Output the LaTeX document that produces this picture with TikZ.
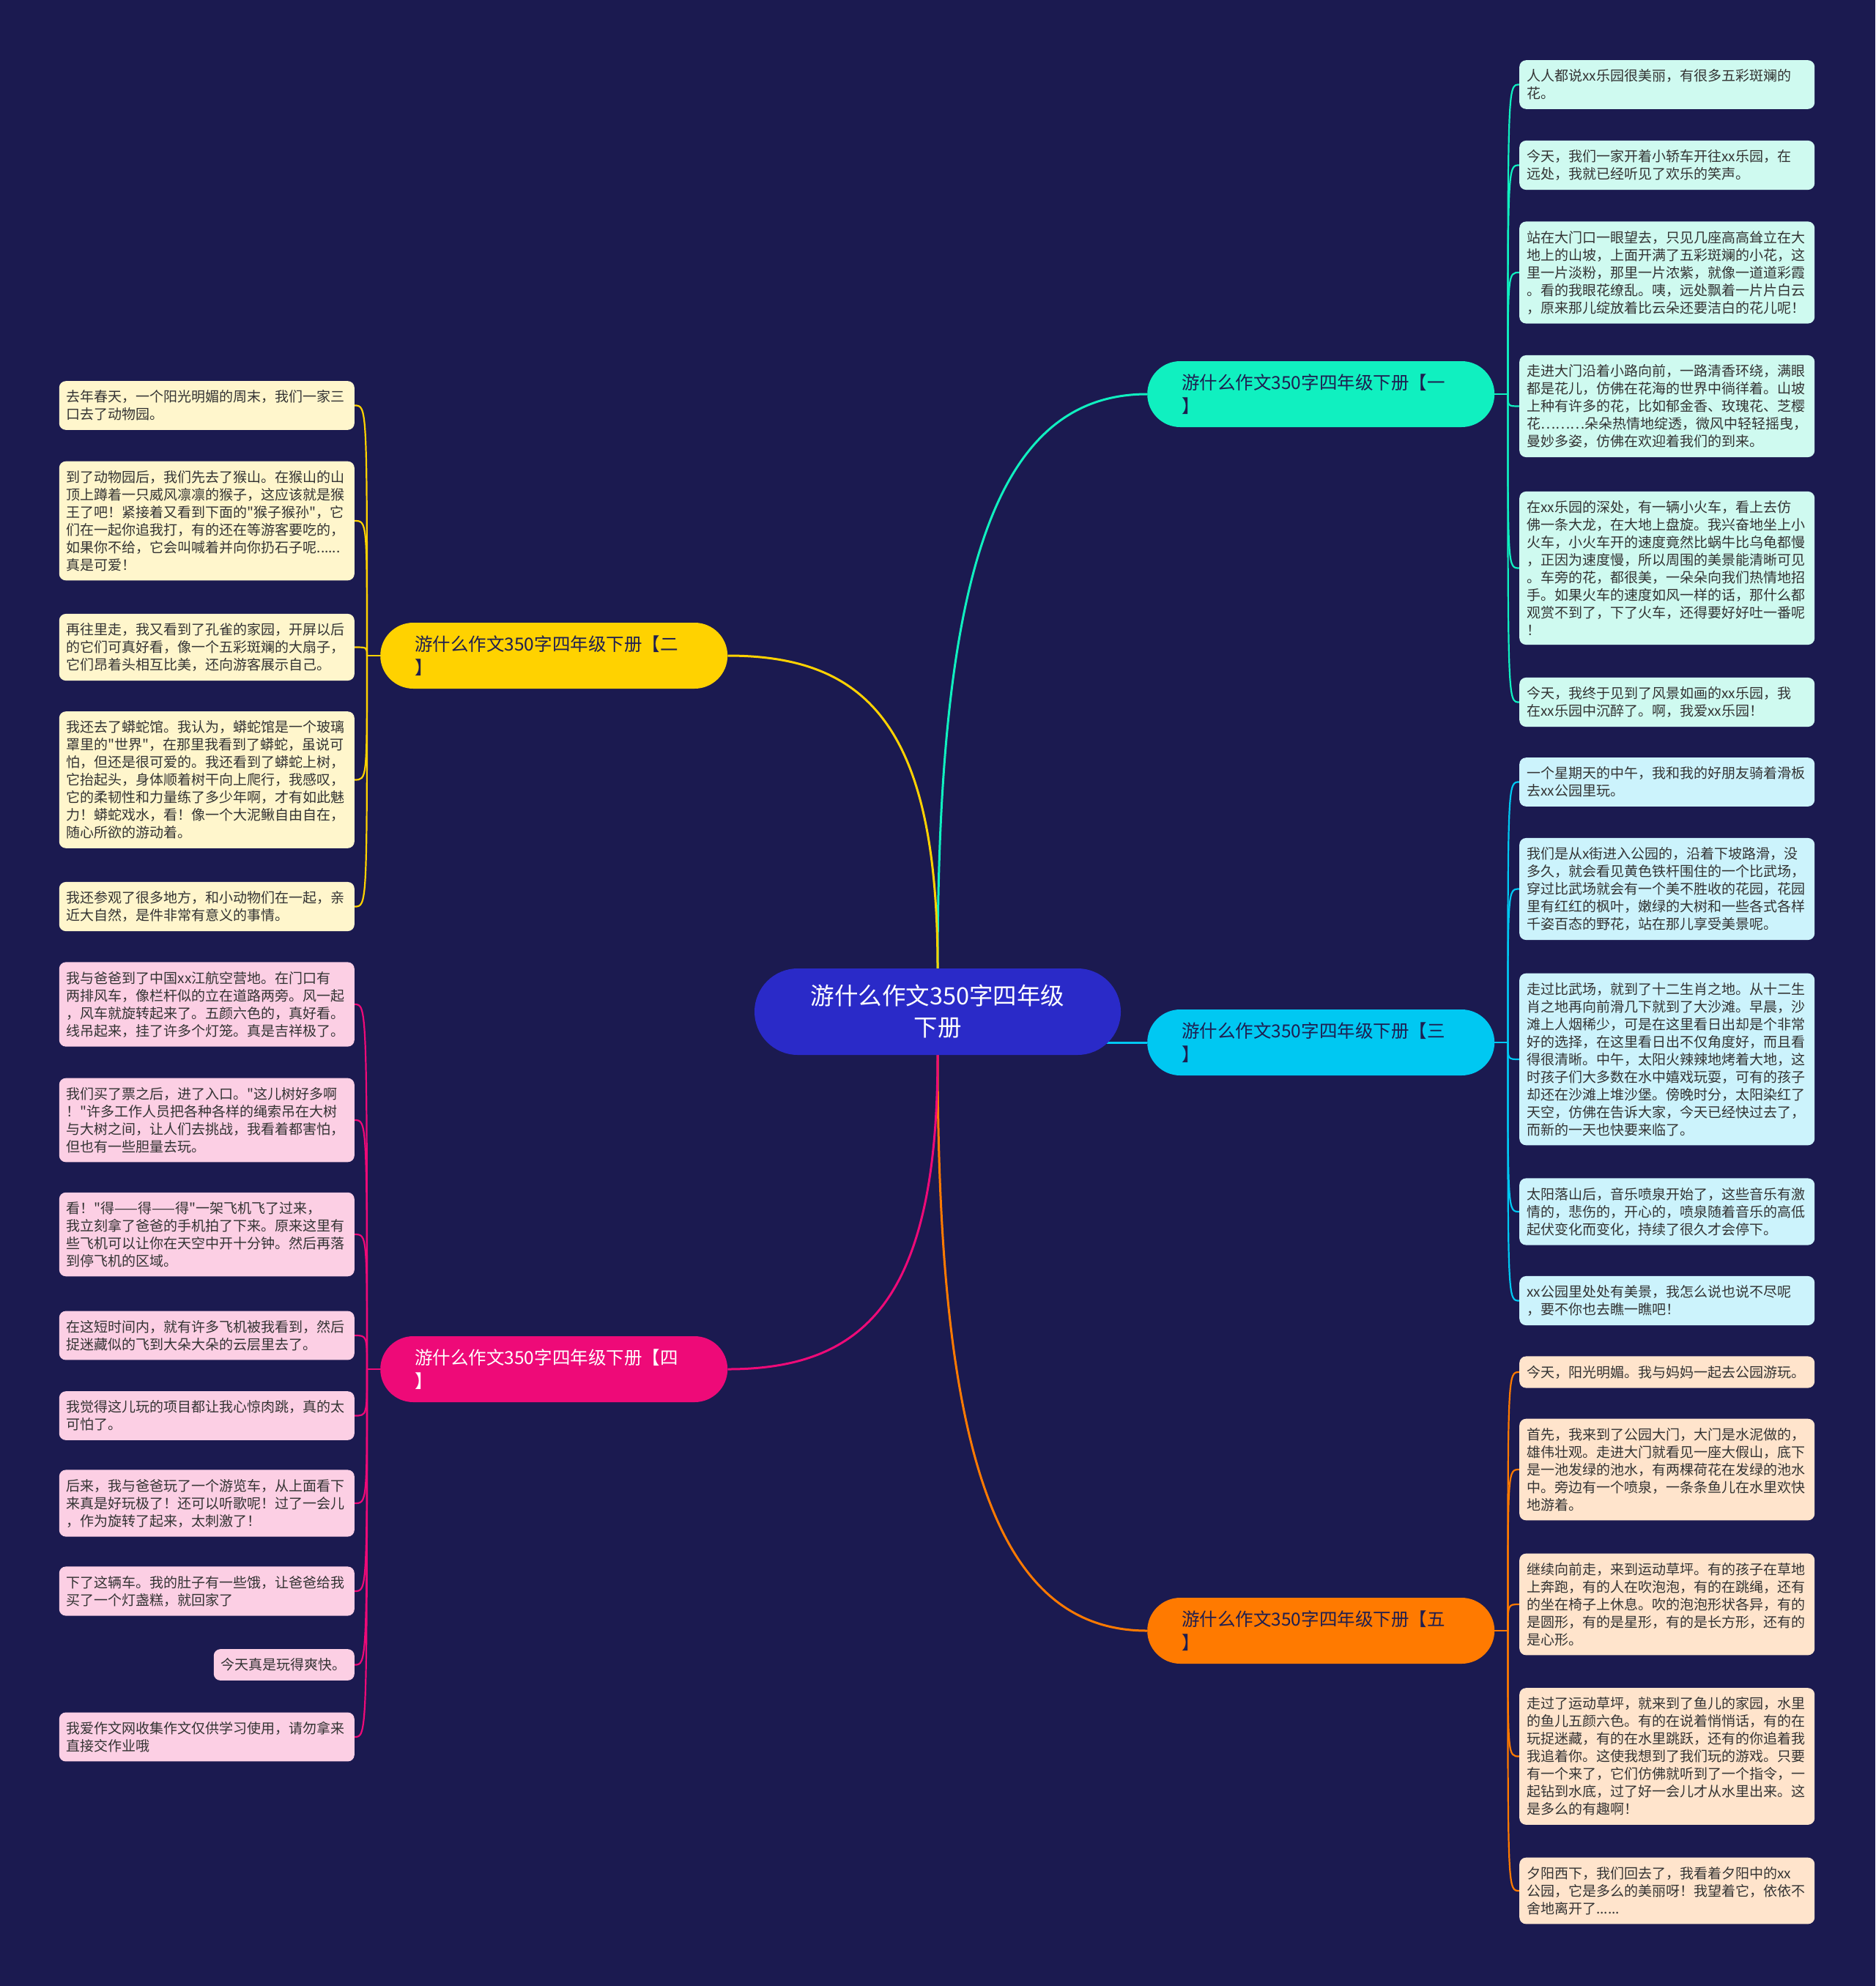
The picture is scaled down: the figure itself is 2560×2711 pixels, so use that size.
\documentclass[tikz,border=0pt]{standalone}
\usepackage{fontspec}
\setmainfont{Noto Sans CJK SC}[Ligatures=TeXOff]
\usepackage{xcolor}
\usetikzlibrary{positioning,backgrounds}

\definecolor{bgnavy}{HTML}{1B1A50}
\definecolor{rootblue}{HTML}{2A2AC8}
\definecolor{cmint}{HTML}{10F0C0}
\definecolor{ccyan}{HTML}{00C8F2}
\definecolor{corange}{HTML}{FF7A00}
\definecolor{cyellow}{HTML}{FFD200}
\definecolor{cpink}{HTML}{EE0A78}
\definecolor{lmint}{HTML}{CFFAF0}
\definecolor{lcyan}{HTML}{CCF3FC}
\definecolor{lorange}{HTML}{FFE4CC}
\definecolor{lyellow}{HTML}{FFF6CC}
\definecolor{lpink}{HTML}{FCCFE4}
\definecolor{inkdark}{HTML}{333333}
\definecolor{inknavy}{HTML}{1E1E50}

\begin{document}
\begin{tikzpicture}[x=1pt, y=-1pt,
  % 中心主题
  root/.style={rectangle, rounded corners=59pt, fill=rootblue, text=white, minimum width=500pt, minimum height=118pt, align=center, font=\fontsize{32.5}{43}\selectfont},
  % 二级分支
  branch/.style={rectangle, rounded corners=45pt, minimum height=90pt, text width=380pt, inner xsep=47pt, inner ysep=0pt, align=left, text=inknavy, font=\fontsize{24.5}{32}\selectfont},
  % 叶子文本框
  leaf/.style={rectangle, rounded corners=9pt, text width=383pt, inner xsep=10pt, inner ysep=12.5pt, align=left, text=inkdark, font=\fontsize{19}{24}\selectfont},
  link/.style={line width=3pt},
  twig/.style={line width=2.2pt}
]

\useasboundingbox (0,0) rectangle (2560,2711);

% 中心与分支
\node[root] (root) at (1280,1381) {游什么作文350字四年级\\下册};
\node[branch, fill=cmint, anchor=west]   (b1) at (1566,538)  {游什么作文350字四年级下册【一\\】};
\node[branch, fill=cyellow, anchor=west] (b2) at (519,895)   {游什么作文350字四年级下册【二\\】};
\node[branch, fill=ccyan, anchor=west]   (b3) at (1566,1423) {游什么作文350字四年级下册【三\\】};
\node[branch, fill=cpink, text=white, anchor=west] (b4) at (519,1869) {游什么作文350字四年级下册【四\\】};
\node[branch, fill=corange, anchor=west] (b5) at (1566,2226) {游什么作文350字四年级下册【五\\】};

% 分支一
\node[leaf, fill=lmint, anchor=west] (r11) at (2074,115.5) {人人都说xx乐园很美丽，有很多五彩斑斓的\\花。};
\node[leaf, fill=lmint, anchor=west] (r12) at (2074,225.5) {今天，我们一家开着小轿车开往xx乐园，在\\远处，我就已经听见了欢乐的笑声。};
\node[leaf, fill=lmint, anchor=west] (r13) at (2074,372) {站在大门口一眼望去，只见几座高高耸立在大\\地上的山坡，上面开满了五彩斑斓的小花，这\\里一片淡粉，那里一片浓紫，就像一道道彩霞\\。看的我眼花缭乱。咦，远处飘着一片片白云\\，原来那儿绽放着比云朵还要洁白的花儿呢！};
\node[leaf, fill=lmint, anchor=west] (r14) at (2074,554.5) {走进大门沿着小路向前，一路清香环绕，满眼\\都是花儿，仿佛在花海的世界中徜徉着。山坡\\上种有许多的花，比如郁金香、玫瑰花、芝樱\\花………朵朵热情地绽透，微风中轻轻摇曳，\\曼妙多姿，仿佛在欢迎着我们的到来。};
\node[leaf, fill=lmint, anchor=west] (r15) at (2074,775.5) {在xx乐园的深处，有一辆小火车，看上去仿\\佛一条大龙，在大地上盘旋。我兴奋地坐上小\\火车，小火车开的速度竟然比蜗牛比乌龟都慢\\，正因为速度慢，所以周围的美景能清晰可见\\。车旁的花，都很美，一朵朵向我们热情地招\\手。如果火车的速度如风一样的话，那什么都\\观赏不到了，下了火车，还得要好好吐一番呢\\！};
\node[leaf, fill=lmint, anchor=west] (r16) at (2074,958.5) {今天，我终于见到了风景如画的xx乐园，我\\在xx乐园中沉醉了。啊，我爱xx乐园！};

% 分支三
\node[leaf, fill=lcyan, anchor=west] (r31) at (2074,1067.5) {一个星期天的中午，我和我的好朋友骑着滑板\\去xx公园里玩。};
\node[leaf, fill=lcyan, anchor=west] (r32) at (2074,1213.5) {我们是从x街进入公园的，沿着下坡路滑，没\\多久，就会看见黄色铁杆围住的一个比武场，\\穿过比武场就会有一个美不胜收的花园，花园\\里有红红的枫叶，嫩绿的大树和一些各式各样\\千姿百态的野花，站在那儿享受美景呢。};
\node[leaf, fill=lcyan, anchor=west] (r33) at (2074,1446) {走过比武场，就到了十二生肖之地。从十二生\\肖之地再向前滑几下就到了大沙滩。早晨，沙\\滩上人烟稀少，可是在这里看日出却是个非常\\好的选择，在这里看日出不仅角度好，而且看\\得很清晰。中午，太阳火辣辣地烤着大地，这\\时孩子们大多数在水中嬉戏玩耍，可有的孩子\\却还在沙滩上堆沙堡。傍晚时分，太阳染红了\\天空，仿佛在告诉大家，今天已经快过去了，\\而新的一天也快要来临了。};
\node[leaf, fill=lcyan, anchor=west] (r34) at (2074,1654) {太阳落山后，音乐喷泉开始了，这些音乐有激\\情的，悲伤的，开心的，喷泉随着音乐的高低\\起伏变化而变化，持续了很久才会停下。};
\node[leaf, fill=lcyan, anchor=west] (r35) at (2074,1775.5) {xx公园里处处有美景，我怎么说也说不尽呢\\，要不你也去瞧一瞧吧！};

% 分支五
\node[leaf, fill=lorange, anchor=west] (r51) at (2074,1873) {今天，阳光明媚。我与妈妈一起去公园游玩。};
\node[leaf, fill=lorange, anchor=west] (r52) at (2074,2006) {首先，我来到了公园大门，大门是水泥做的，\\雄伟壮观。走进大门就看见一座大假山，底下\\是一池发绿的池水，有两棵荷花在发绿的池水\\中。旁边有一个喷泉，一条条鱼儿在水里欢快\\地游着。};
\node[leaf, fill=lorange, anchor=west] (r53) at (2074,2190) {继续向前走，来到运动草坪。有的孩子在草地\\上奔跑，有的人在吹泡泡，有的在跳绳，还有\\的坐在椅子上休息。吹的泡泡形状各异，有的\\是圆形，有的是星形，有的是长方形，还有的\\是心形。};
\node[leaf, fill=lorange, anchor=west] (r54) at (2074,2397.5) {走过了运动草坪，就来到了鱼儿的家园，水里\\的鱼儿五颜六色。有的在说着悄悄话，有的在\\玩捉迷藏，有的在水里跳跃，还有的你追着我\\我追着你。这使我想到了我们玩的游戏。只要\\有一个来了，它们仿佛就听到了一个指令，一\\起钻到水底，过了好一会儿才从水里出来。这\\是多么的有趣啊！};
\node[leaf, fill=lorange, anchor=west] (r55) at (2074,2581) {夕阳西下，我们回去了，我看着夕阳中的xx\\公园，它是多么的美丽呀！我望着它，依依不\\舍地离开了......};

% 分支二
\node[leaf, fill=lyellow, anchor=east] (l21) at (484,553.5) {去年春天，一个阳光明媚的周末，我们一家三\\口去了动物园。};
\node[leaf, fill=lyellow, anchor=east] (l22) at (484,711) {到了动物园后，我们先去了猴山。在猴山的山\\顶上蹲着一只威风凛凛的猴子，这应该就是猴\\王了吧！紧接着又看到下面的"猴子猴孙"，它\\们在一起你追我打，有的还在等游客要吃的，\\如果你不给，它会叫喊着并向你扔石子呢......\\真是可爱！};
\node[leaf, fill=lyellow, anchor=east] (l23) at (484,883.5) {再往里走，我又看到了孔雀的家园，开屏以后\\的它们可真好看，像一个五彩斑斓的大扇子，\\它们昂着头相互比美，还向游客展示自己。};
\node[leaf, fill=lyellow, anchor=east] (l24) at (484,1064.5) {我还去了蟒蛇馆。我认为，蟒蛇馆是一个玻璃\\罩里的"世界"，在那里我看到了蟒蛇，虽说可\\怕，但还是很可爱的。我还看到了蟒蛇上树，\\它抬起头，身体顺着树干向上爬行，我感叹，\\它的柔韧性和力量练了多少年啊，才有如此魅\\力！蟒蛇戏水，看！像一个大泥鳅自由自在，\\随心所欲的游动着。};
\node[leaf, fill=lyellow, anchor=east] (l25) at (484,1237.5) {我还参观了很多地方，和小动物们在一起，亲\\近大自然，是件非常有意义的事情。};

% 分支四
\node[leaf, fill=lpink, anchor=east] (l41) at (484,1371) {我与爸爸到了中国xx江航空营地。在门口有\\两排风车，像栏杆似的立在道路两旁。风一起\\，风车就旋转起来了。五颜六色的，真好看。\\线吊起来，挂了许多个灯笼。真是吉祥极了。};
\node[leaf, fill=lpink, anchor=east] (l42) at (484,1529) {我们买了票之后，进了入口。"这儿树好多啊\\！"许多工作人员把各种各样的绳索吊在大树\\与大树之间，让人们去挑战，我看着都害怕，\\但也有一些胆量去玩。};
\node[leaf, fill=lpink, anchor=east] (l43) at (484,1685) {看！"得——得——得"一架飞机飞了过来，\\我立刻拿了爸爸的手机拍了下来。原来这里有\\些飞机可以让你在天空中开十分钟。然后再落\\到停飞机的区域。};
\node[leaf, fill=lpink, anchor=east] (l44) at (484,1823) {在这短时间内，就有许多飞机被我看到，然后\\捉迷藏似的飞到大朵大朵的云层里去了。};
\node[leaf, fill=lpink, anchor=east] (l45) at (484,1932.5) {我觉得这儿玩的项目都让我心惊肉跳，真的太\\可怕了。};
\node[leaf, fill=lpink, anchor=east] (l46) at (484,2052) {后来，我与爸爸玩了一个游览车，从上面看下\\来真是好玩极了！还可以听歌呢！过了一会儿\\，作为旋转了起来，太刺激了！};
\node[leaf, fill=lpink, anchor=east] (l47) at (484,2172) {下了这辆车。我的肚子有一些饿，让爸爸给我\\买了一个灯盏糕，就回家了};
\node[leaf, fill=lpink, anchor=east, text width=172pt] (l48) at (484,2272.5) {今天真是玩得爽快。};
\node[leaf, fill=lpink, anchor=east] (l49) at (484,2371) {我爱作文网收集作文仅供学习使用，请勿拿来\\直接交作业哦};

\begin{scope}[on background layer]
\fill[bgnavy] (0,0) rectangle (2560,2711);

% 中心到分支的曲线
\draw[link, cmint]   (root.north) .. controls +(0,-542) and +(-206,0) .. (b1.west);
\draw[link, corange] (root.south) .. controls +(0,542) and +(-206,0) .. (b5.west);
\draw[link, cyellow] (root.north) .. controls +(0,-330) and +(190,0) .. (b2.east);
\draw[link, cpink]   (root.south) .. controls +(0,330) and +(190,0) .. (b4.east);
\draw[link, ccyan]   (b3.west) -- (b3.west -| root.center);

% 分支到叶子
\draw[twig, cmint]   (b1.east) -- ++(18,0) coordinate (b1r);
\draw[twig, ccyan]   (b3.east) -- ++(18,0) coordinate (b3r);
\draw[twig, corange] (b5.east) -- ++(18,0) coordinate (b5r);
\draw[twig, cyellow] (b2.west) -- ++(-18,0) coordinate (b2l);
\draw[twig, cpink]   (b4.west) -- ++(-18,0) coordinate (b4l);

\foreach \n in {1,...,6}
  \draw[twig, cmint] (b1r) .. controls (b1r |- r1\n.west) .. (r1\n.west);
\foreach \n in {1,...,5}
  \draw[twig, ccyan] (b3r) .. controls (b3r |- r3\n.west) .. (r3\n.west);
\foreach \n in {1,...,5}
  \draw[twig, corange] (b5r) .. controls (b5r |- r5\n.west) .. (r5\n.west);
\foreach \n in {1,...,5}
  \draw[twig, cyellow] (b2l) .. controls (b2l |- l2\n.east) .. (l2\n.east);
\foreach \n in {1,...,9}
  \draw[twig, cpink] (b4l) .. controls (b4l |- l4\n.east) .. (l4\n.east);
\end{scope}

\end{tikzpicture}
\end{document}
